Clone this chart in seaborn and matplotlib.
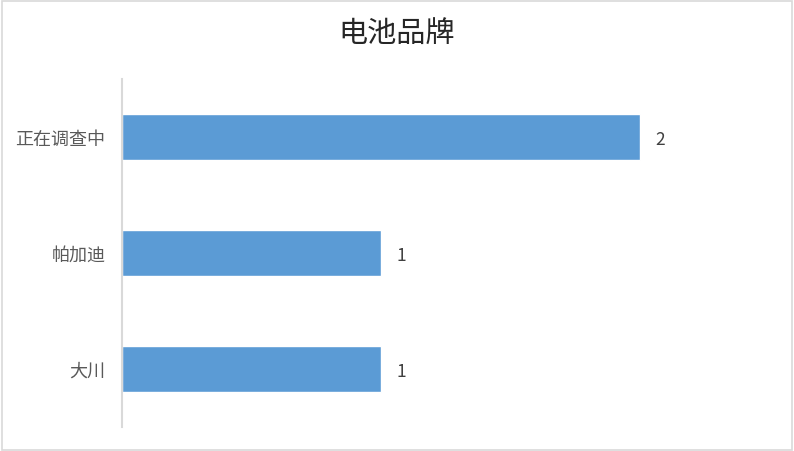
import matplotlib
matplotlib.use("Agg")
import matplotlib.pyplot as plt
import pandas as pd
import seaborn as sns
from matplotlib.patches import Rectangle

brands = ["正在调查中", "帕加迪", "大川"]
counts = [2, 1, 1]
title = "电池品牌"

sns.set_style("white")
plt.rcParams['font.family'] = ['Noto Sans CJK SC', 'DejaVu Sans']

df = pd.DataFrame({"brand": brands, "count": counts})

fig = plt.figure(figsize=(7.94, 4.52), dpi=100)
ax = fig.add_axes([122 / 794, 24 / 452, 647 / 794, 348 / 452])

sns.barplot(data=df, x="count", y="brand", color="#5B9BD5", width=0.39,
            orient="h", ax=ax, saturation=1)

ax.set_xlim(0, 2.5)
ax.set_ylim(2.5, -0.5)
ax.set_xlabel("")
ax.set_ylabel("")
ax.set_xticks([])
for side in ["top", "right", "bottom"]:
    ax.spines[side].set_visible(False)
ax.spines["left"].set_color("#d9d9d9")
ax.spines["left"].set_linewidth(1.5)
ax.tick_params(axis="y", length=0, pad=12, labelsize=13, labelcolor="#595959")

# value labels
for i, v in enumerate(counts):
    ax.text(v + 0.06, i + 0.02, str(v), va="center", ha="left", fontsize=12.5,
            color="#404040")

fig.text(0.5, 1 - 34 / 452, title, ha="center", va="center", fontsize=21,
         color="#262626", fontweight="medium")

# outer border
fig.patches.append(Rectangle((0.002, 0.002), 0.995, 0.994, transform=fig.transFigure,
                             fill=False, edgecolor="#d9d9d9", linewidth=1.2))

fig.savefig("out.png", dpi=100)
